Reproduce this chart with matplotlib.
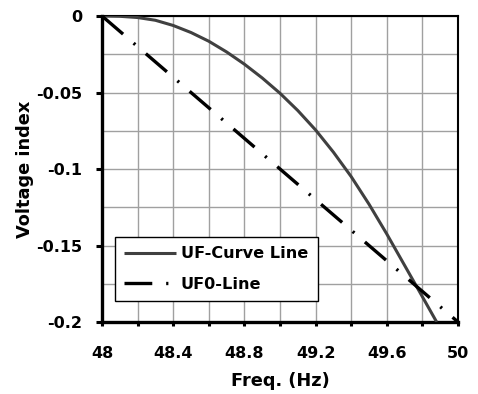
import numpy as np
import matplotlib.pyplot as plt
from matplotlib.ticker import MultipleLocator

plt.rcParams['font.family'] = ['DejaVu Sans']
plt.rcParams['font.weight'] = 'bold'
plt.rcParams['lines.scale_dashes'] = False

# Données
freq_curve = [48.0, 48.1, 48.2, 48.3, 48.4, 48.5, 48.6, 48.7, 48.8, 48.9,
              49.0, 49.1, 49.2, 49.3, 49.4, 49.5, 49.6, 49.7, 49.8, 49.88]
uf_curve = [0.0, -0.0002, -0.001, -0.0028, -0.0062, -0.0108, -0.0165, -0.0235,
            -0.0315, -0.0405, -0.0505, -0.0618, -0.0745, -0.089, -0.105,
            -0.123, -0.1425, -0.163, -0.1835, -0.2]
freq_line = [48.0, 50.0]
uf0_line = [0.0, -0.2]

xticks = [48, 48.4, 48.8, 49.2, 49.6, 50]
xlabels = ['48', '48.4', '48.8', '49.2', '49.6', '50']
yticks = [0, -0.05, -0.1, -0.15, -0.2]
ylabels = ['0', '-0.05', '-0.1', '-0.15', '-0.2']

fig = plt.figure(figsize=(4.78, 3.94), dpi=100)
ax = fig.add_axes([0.2134, 0.1827, 0.7448, 0.7767])

ax.plot(freq_curve, uf_curve, color='#404040', lw=2.2, label='UF-Curve Line',
        zorder=3, solid_capstyle='butt')
ax.plot(freq_line, uf0_line, color='black', lw=2.4, label='UF0-Line',
        dashes=(20, 10, 1.6, 10), zorder=3)

ax.set_xlim(48, 50)
ax.set_ylim(-0.2, 0)

# grille
ax.xaxis.set_minor_locator(MultipleLocator(0.2))
ax.yaxis.set_minor_locator(MultipleLocator(0.025))
ax.grid(True, which='both', color='#a0a0a0', lw=1.0)
ax.set_axisbelow(True)

ax.set_xticks(xticks)
ax.set_xticklabels(xlabels)
ax.set_yticks(yticks)
ax.set_yticklabels(ylabels)
ax.tick_params(axis='both', which='major', labelsize=11.5, width=2.2, direction='out')
ax.tick_params(axis='x', which='major', length=3, pad=14)
ax.tick_params(axis='x', which='minor', length=3, width=2.2)
ax.tick_params(axis='y', which='major', length=4, pad=10)
ax.tick_params(axis='y', which='minor', length=0)

for s in ['left', 'bottom']:
    ax.spines[s].set_linewidth(2.4)
for s in ['top', 'right']:
    ax.spines[s].set_linewidth(1.5)

ax.set_xlabel('Freq. (Hz)', fontsize=12.8, fontweight='bold', labelpad=8)
ax.set_ylabel('Voltage index', fontsize=12.8, fontweight='bold', labelpad=2)

leg = ax.legend(loc='lower left', bbox_to_anchor=(0.036, 0.068), fontsize=11.6,
                frameon=True, fancybox=False, borderpad=0.6, labelspacing=0.95,
                handlelength=3.2, handletextpad=0.3, borderaxespad=0)
leg.get_frame().set_edgecolor('black')
leg.get_frame().set_linewidth(1.0)
leg.get_frame().set_alpha(1)

fig.savefig('out.png', dpi=100)
